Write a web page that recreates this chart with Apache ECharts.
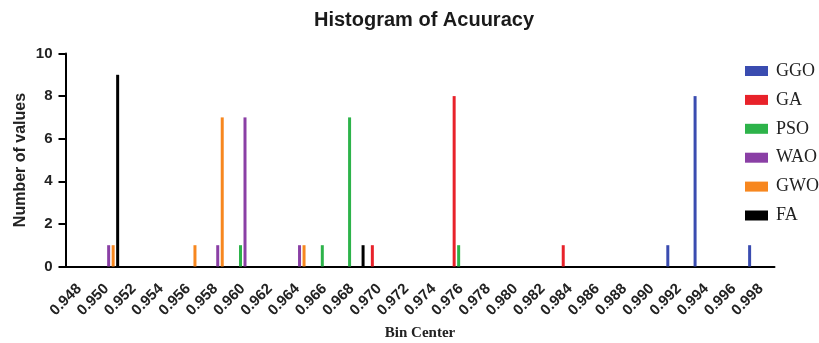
<!DOCTYPE html>
<html><head><meta charset="utf-8">
<script src="https://cdn.jsdelivr.net/npm/echarts@6/dist/echarts.min.js"></script>
<style>html,body{margin:0;padding:0;background:#fff}#c{width:819px;height:343px}</style>
</head><body><div id="c"></div>
<script>
var binCenters = ['0.948','0.950','0.952','0.954','0.956','0.958','0.960','0.962','0.964','0.966','0.968','0.970','0.972','0.974','0.976','0.978','0.980','0.982','0.984','0.986','0.988','0.990','0.992','0.994','0.996','0.998'];
var seriesNames = ['GGO','GA','PSO','WAO','GWO','FA'];
var GGO = [0,0,0,0,0,0,0,0,0,0,0,0,0,0,0,0,0,0,0,0,0,0,1,8,0,1];
var GA  = [0,0,0,0,0,0,0,0,0,0,0,1,0,0,8,0,0,0,1,0,0,0,0,0,0,0];
var PSO = [0,0,0,0,0,0,1,0,0,1,7,0,0,0,1,0,0,0,0,0,0,0,0,0,0,0];
var WAO = [0,1,0,0,0,1,7,0,1,0,0,0,0,0,0,0,0,0,0,0,0,0,0,0,0,0];
var GWO = [0,1,0,0,1,7,0,0,1,0,0,0,0,0,0,0,0,0,0,0,0,0,0,0,0,0];
var FA  = [0,9,0,0,0,0,0,0,0,0,1,0,0,0,0,0,0,0,0,0,0,0,0,0,0,0];
var colors = ['#3a4cb0','#e8222a','#2db34a','#8a3fa5','#f7871f','#000000'];
var values = [GGO, GA, PSO, WAO, GWO, FA];

var chart = echarts.init(document.getElementById('c'), null, {renderer:'canvas'});
chart.setOption({
  animation: false,
  color: colors,
  title: {
    text: 'Histogram of Acuuracy', left: 419, top: 5, textAlign: 'center',
    textStyle: {fontFamily: 'Liberation Sans, Arial', fontWeight: 'bold', fontSize: 20, color: '#1a1a1a'}
  },
  legend: {
    orient: 'vertical', left: 740, top: 57, itemWidth: 23, itemHeight: 10, itemGap: 10.9,
    icon: 'rect', data: seriesNames,
    textStyle: {fontFamily: 'Liberation Serif, Times New Roman', fontSize: 18, color: '#222', padding: [0,0,0,3]}
  },
  grid: {left: 65.5, right: 44.5, top: 53.5, bottom: 76.5, containLabel: false, outerBoundsMode: 'none'},
  xAxis: {
    type: 'category', data: binCenters, boundaryGap: true,
    name: 'Bin Center', nameLocation: 'middle', nameGap: 59, nameMoveOverlap: false,
    nameTextStyle: {fontFamily: 'Liberation Serif, Times New Roman', fontWeight: 'bold', fontSize: 15, color: '#222'},
    axisLine: {onZero: false, lineStyle: {color: '#000', width: 2}},
    axisTick: {alignWithLabel: true, length: 7, lineStyle: {color: '#000', width: 2}},
    axisLabel: {rotate: 45, interval: 0, margin: 20, fontFamily: 'Liberation Sans, Arial', fontWeight: 'bold', fontSize: 15, color: '#222'}
  },
  yAxis: {
    type: 'value', min: 0, max: 10, interval: 2,
    name: 'Number of values', nameLocation: 'middle', nameGap: 37, nameRotate: 90, nameMoveOverlap: false,
    nameTextStyle: {fontFamily: 'Liberation Sans, Arial', fontWeight: 'bold', fontSize: 16, color: '#222'},
    axisLine: {show: true, lineStyle: {color: '#000', width: 2}},
    axisTick: {show: true, length: 7, lineStyle: {color: '#000', width: 2}},
    splitLine: {show: false},
    axisLabel: {margin: 13, fontFamily: 'Liberation Sans, Arial', fontWeight: 'bold', fontSize: 15, color: '#222'}
  },
  series: seriesNames.map(function(n, i){
    return {name: n, type: 'bar', data: values[i], barWidth: 3, barGap: '50%', itemStyle: {color: colors[i]}};
  })
});
</script></body></html>
